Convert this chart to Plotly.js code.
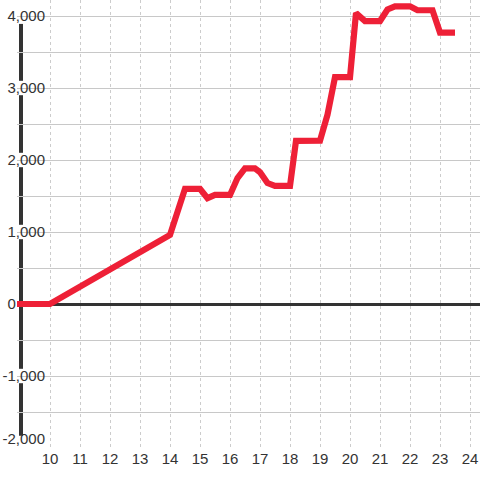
<!DOCTYPE html>
<html>
<head>
<meta charset="utf-8">
<script src="https://cdn.plot.ly/plotly-3.0.1.min.js"></script>
<style>html,body{margin:0;padding:0;background:#fff}#chart{width:480px;height:480px}</style>
</head>
<body>
<div id="chart"></div>
<script>
// ---- data ----
const hours = [8.9, 10, 14, 14.5, 15, 15.25, 15.5, 16, 16.25, 16.5, 16.83, 17, 17.25, 17.5, 18, 18.2, 19, 19.25, 19.5, 20, 20.2, 20.5, 21, 21.25, 21.5, 22, 22.25, 22.75, 23, 23.5];
const values = [0, 0, 960, 1600, 1600, 1470, 1515, 1515, 1750, 1885, 1885, 1830, 1680, 1640, 1640, 2265, 2270, 2630, 3150, 3150, 4040, 3930, 3930, 4090, 4135, 4135, 4080, 4080, 3770, 3770];
const xTicks = [10, 11, 12, 13, 14, 15, 16, 17, 18, 19, 20, 21, 22, 23, 24];
const yTicks = [-2000, -1000, 0, 1000, 2000, 3000, 4000];
const yTickText = ["-2,000<br><span style='font-size:4px'>\u00a0</span>", "-1,000", "0\u00a0\u00a0\u00a0\u00a0\u00a0\u00a0\u00a0", "1,000", "2,000", "3,000", "4,000"];
const yMinor = [-1500, -500, 500, 1500, 2500, 3500];

// ---- layout helpers ----
const W = 480, H = 480;
const subLeft = 17;             // px where the drawing area starts
const plotLeft = 45;            // px where grid starts
const axisX = 21;               // px of dark vertical axis line
const pxPerHour = 30, x10px = 50;
const xRange = [10 - (x10px - subLeft) / pxPerHour, 10 + (W - x10px) / pxPerHour];
const pxPerUnit = 72 / 1000;
const yTop = 4000 + 16 / pxPerUnit;
const yRange = [-2000, yTop];
const gap = 100; // label gap on the dark axis (data units)

const shapes = [];
shapes.push({type: 'rect', xref: 'paper', yref: 'paper', x0: 0, x1: plotLeft / W, y0: 0, y1: 1,
  fillcolor: '#ffffff', line: {width: 0}, layer: 'between'});
shapes.push({type: 'rect', xref: 'paper', yref: 'y', x0: 0, x1: 1, y0: yTicks[yTicks.length - 1] + 8, y1: yTop + 50,
  fillcolor: '#ffffff', line: {width: 0}, layer: 'between'});
const labelled = yTicks.filter(v => v !== 0);
for (let i = 0; i < labelled.length - 1; i++) {
  const lo = i === 0 ? labelled[i] + 170 : labelled[i] + gap;
  const hi = i === labelled.length - 2 ? labelled[i + 1] - 110 : labelled[i + 1] - gap;
  shapes.push({type: 'line', xref: 'paper', yref: 'y', x0: axisX / W, x1: axisX / W,
    y0: lo, y1: hi, line: {color: '#333333', width: 4}, layer: 'between'});
}

const trace = {
  x: hours, y: values, type: 'scatter', mode: 'lines',
  line: {color: '#ee2037', width: 6.2, shape: 'linear'},
  hoverinfo: 'skip'
};

const layout = {
  width: W, height: H,
  margin: {l: 0, r: 0, t: 0, b: 32, pad: 0},
  paper_bgcolor: '#ffffff', plot_bgcolor: 'rgba(0,0,0,0)',
  showlegend: false,
  font: {family: '"Liberation Sans", Arial, sans-serif', size: 15, color: '#333333'},
  xaxis: {
    domain: [subLeft / W, 1],
    range: xRange, tickmode: 'array', tickvals: xTicks, ticktext: xTicks.map(String),
    showgrid: true, gridcolor: '#cccccc', gridwidth: 1, griddash: 'dot',
    zeroline: false, showline: false, ticks: '',
    tickfont: {size: 15, color: '#333333'}, fixedrange: true
  },
  yaxis: {
    range: yRange, anchor: 'free', position: plotLeft / W,
    tickmode: 'array', tickvals: yTicks, ticktext: yTickText,
    showgrid: true, gridcolor: '#c8c8c8', gridwidth: 1,
    minor: {tickmode: 'array', tickvals: yMinor, showgrid: true, gridcolor: '#c8c8c8', gridwidth: 1, ticks: ''},
    zeroline: true, zerolinecolor: '#333333', zerolinewidth: 3,
    showline: false, ticks: '',
    tickfont: {size: 15, color: '#333333'}, fixedrange: true
  },
  shapes: shapes
};

Plotly.newPlot('chart', [trace], layout, {displayModeBar: false, staticPlot: true});
</script>
</body>
</html>
